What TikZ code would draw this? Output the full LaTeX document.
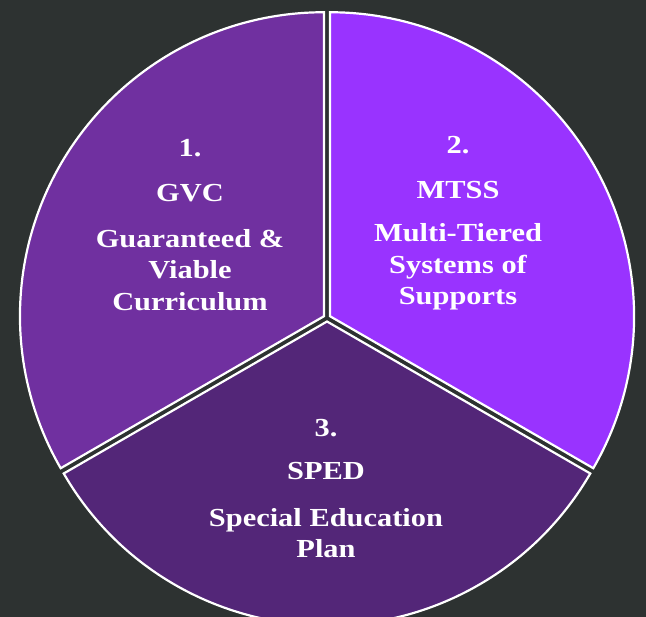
\documentclass[tikz,border=0pt]{standalone}
\usepackage{fontspec}
\setmainfont{Liberation Serif}[FakeStretch=1.17]
\usetikzlibrary{calc}
\definecolor{bg}{HTML}{2D3231}
\definecolor{gvc}{HTML}{7030A0}
\definecolor{mtss}{HTML}{9933FF}
\definecolor{sped}{HTML}{532678}
\tikzset{
  sector/.style={draw=white, line width=2.2pt, line join=miter},
  lbl/.style={text=white, font=\bfseries\fontsize{26}{31.5}\selectfont, align=center, inner sep=0pt}
}
\begin{document}
\begin{tikzpicture}[x=1pt,y=1pt]
\useasboundingbox (0,0) rectangle (646,617);
\clip (0,0) rectangle (646,617);
\fill[bg] (0,0) rectangle (646,617);
\coordinate (c) at (327,299);
\def\R{304}
% sectors, slightly exploded
\fill[gvc, sector] ($(c)+(150:3.5)$) coordinate (cg) -- ++(90:\R) arc (90:210:\R) -- cycle;
\fill[mtss, sector] ($(c)+(30:3.5)$) coordinate (cm) -- ++(-30:\R) arc (-30:90:\R) -- cycle;
\fill[sped, sector] ($(c)+(270:3.5)$) coordinate (cs) -- ++(210:\R) arc (210:330:\R) -- cycle;
% labels
\node[lbl] (g1) at (190,469) {1.};
\node[lbl] (g2) at (190,424) {GVC};
\node[lbl] (g3) at (190,347) {Guaranteed \&\\Viable\\Curriculum};
\node[lbl] (m1) at (458,472) {2.};
\node[lbl] (m2) at (458,427) {MTSS};
\node[lbl] (m3) at (458,350) {Multi-Tiered\\Systems of\\Supports};
\node[lbl] (s1) at (326,189) {3.};
\node[lbl] (s2) at (326,146) {SPED};
\node[lbl] (s3) at (326,84) {Special Education\\Plan};
\end{tikzpicture}
\end{document}
